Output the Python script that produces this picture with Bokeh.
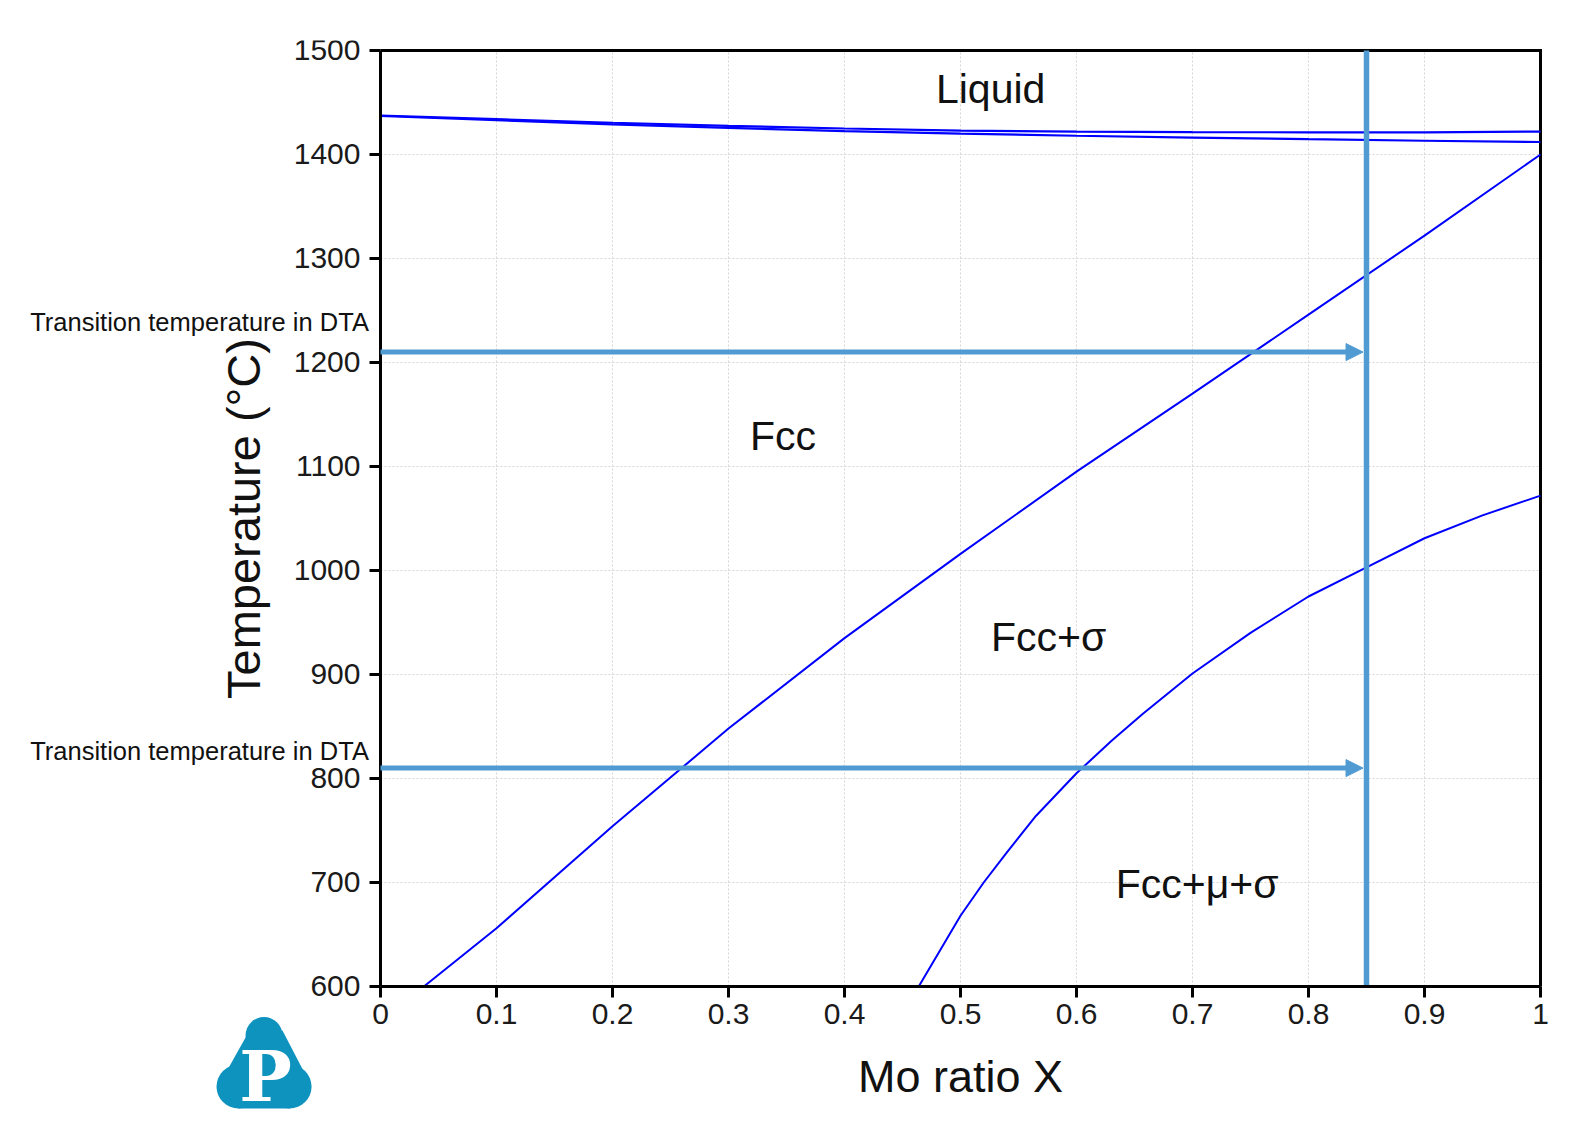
import numpy as np
from bokeh.plotting import figure
from bokeh.models import Range1d, FixedTicker, Arrow, NormalHead, LinearAxis
from bokeh.core.properties import value
from bokeh.embed import file_html
from bokeh.resources import INLINE

# ---------------- data ----------------
x_ticks = [0, 0.1, 0.2, 0.3, 0.4, 0.5, 0.6, 0.7, 0.8, 0.9, 1]
x_tick_labels = ["0", "0.1", "0.2", "0.3", "0.4", "0.5", "0.6", "0.7", "0.8", "0.9", "1"]
y_ticks = [600, 700, 800, 900, 1000, 1100, 1200, 1300, 1400, 1500]

liq_x = [0, 0.1, 0.2, 0.3, 0.4, 0.5, 0.6, 0.7, 0.8, 0.9, 1.0]
liquidus_T = [1437.5, 1434, 1430.5, 1427.5, 1425, 1423, 1422, 1421.5, 1421.3, 1421.3, 1422]
solidus_T = [1437, 1433, 1429, 1425.5, 1422.5, 1420, 1418, 1416.3, 1414.7, 1413.2, 1412]

fcc_sigma_x = [0.0374, 0.1, 0.2, 0.3, 0.4, 0.5, 0.6, 0.7, 0.8, 0.9, 1.0]
fcc_sigma_T = [600, 656, 754, 848, 935, 1016, 1095, 1170, 1246, 1322, 1400]

sigma_mu_x = [0.464, 0.5, 0.52, 0.54, 0.565, 0.6, 0.63, 0.657, 0.7, 0.75, 0.8, 0.85, 0.9, 0.95, 1.0]
sigma_mu_T = [600, 668, 700, 729, 764, 805, 836, 862, 901, 940, 975, 1003, 1031, 1053, 1072]

alloy_x = 0.85
dta_T = [1210, 810]
dta_label = "Transition temperature in DTA"
dta_label_x = -0.302
dta_label_T = [1239, 826]

region_names = ["Liquid", "Fcc", "Fcc+σ", "Fcc+μ+σ"]
region_x = [0.526, 0.347, 0.576, 0.704]
region_T = [1463, 1129, 936, 699]

# ---------------- styling ----------------
FONT = "Liberation Sans"
BLUE = "#0000ff"
LB = "#509bd2"
LOGO = "#0e93bf"
GRID = "#d6d6d6"

X0, X1 = x_ticks[0], x_ticks[-1]
T0, T1 = y_ticks[0], y_ticks[-1]

p = figure(frame_width=1528, frame_height=1076,
           min_border_left=20, min_border_right=20,
           min_border_top=40, min_border_bottom=10,
           x_range=Range1d(-0.310345, 1.0069), y_range=Range1d(475, 1509.6),
           x_axis_location=None, y_axis_location=None,
           output_backend="svg", toolbar_location=None, tools="")
p.background_fill_color = "white"
p.border_fill_color = "white"
p.outline_line_color = None
p.grid.visible = False

# grid lines (dotted) inside the plot box
p.segment(x0=x_ticks[1:-1], y0=[T0] * (len(x_ticks) - 2), x1=x_ticks[1:-1], y1=[T1] * (len(x_ticks) - 2),
          line_color=GRID, line_dash="2 2", line_width=1)
p.segment(x0=[X0] * (len(y_ticks) - 2), y0=y_ticks[1:-1], x1=[X1] * (len(y_ticks) - 2), y1=y_ticks[1:-1],
          line_color=GRID, line_dash="2 2", line_width=1)

# axes placed at data locations
xaxis = LinearAxis(fixed_location=T0, bounds=(X0, X1), ticker=FixedTicker(ticks=x_ticks),
                   major_label_overrides={t: l for t, l in zip(x_ticks, x_tick_labels)},
                   axis_label="Mo ratio X")
yaxis = LinearAxis(fixed_location=X0, bounds=(T0, T1), ticker=FixedTicker(ticks=y_ticks),
                   axis_label="Temperature (°C)")
for ax in (xaxis, yaxis):
    ax.axis_line_width = 3
    ax.axis_line_color = "black"
    ax.major_tick_line_width = 3
    ax.major_tick_line_color = "black"
    ax.major_tick_out = 11
    ax.major_tick_in = 0
    ax.minor_tick_line_color = None
    ax.major_label_text_font = FONT
    ax.major_label_text_font_size = "30px"
    ax.major_label_text_color = "#1a1a1a"
    ax.axis_label_text_font = FONT
    ax.axis_label_text_font_style = "normal"
    ax.axis_label_text_color = "#111111"
xaxis.axis_label_text_font_size = "45px"
yaxis.axis_label_text_font_size = "47px"
xaxis.major_label_standoff = 7
yaxis.major_label_standoff = 9
xaxis.axis_label_standoff = 23
yaxis.axis_label_standoff = 21
p.add_layout(xaxis, "below")
p.add_layout(yaxis, "left")

# top / right border of the box
p.line([X0, X1, X1], [T1, T1, T0], line_color="black", line_width=3, line_join="miter")

# phase boundaries
p.line(liq_x, liquidus_T, line_color=BLUE, line_width=2.2)
p.line(liq_x, solidus_T, line_color=BLUE, line_width=2.2)
p.line(fcc_sigma_x, fcc_sigma_T, line_color=BLUE, line_width=2)
p.line(sigma_mu_x, sigma_mu_T, line_color=BLUE, line_width=2)

# alloy composition line and DTA arrows
p.segment(x0=[alloy_x], y0=[T0], x1=[alloy_x], y1=[T1], line_color=LB, line_width=5.5)
for T in dta_T:
    p.add_layout(Arrow(end=NormalHead(size=17, fill_color=LB, line_color=LB, line_width=1),
                       x_start=X0, y_start=T, x_end=alloy_x - 0.003, y_end=T,
                       line_color=LB, line_width=5))

# region labels
p.text(x=region_x, y=region_T, text=region_names, text_font=value(FONT),
       text_font_size="41px", text_align="center", text_baseline="middle",
       text_color="#111111")

# DTA labels
p.text(x=[dta_label_x] * len(dta_label_T), y=dta_label_T, text=[dta_label] * len(dta_label_T),
       text_font=value(FONT), text_font_size="25.5px", text_align="left",
       text_baseline="middle", text_color="#111111")

# logo (decoration, drawn in the margin of the box)
p.scatter(x=[-0.1004, -0.1224, -0.0784], y=[552.9, 503.8, 503.8], size=[37, 44, 44],
          marker="circle", fill_color=LOGO, line_color=None)
p.patch(x=[-0.1129, -0.0845, -0.0621, -0.0784, -0.1224, -0.1371],
        y=[557.7, 557.7, 509.6, 482.7, 482.7, 509.6],
        fill_color=LOGO, line_color=None)
p.text(x=[-0.0991], y=[513], text=["P"], text_font=value("DejaVu Serif"),
       text_font_style="bold", text_font_size="70px", text_align="center",
       text_baseline="middle", text_color="white")

open("out.html", "w").write(file_html(p, INLINE))
